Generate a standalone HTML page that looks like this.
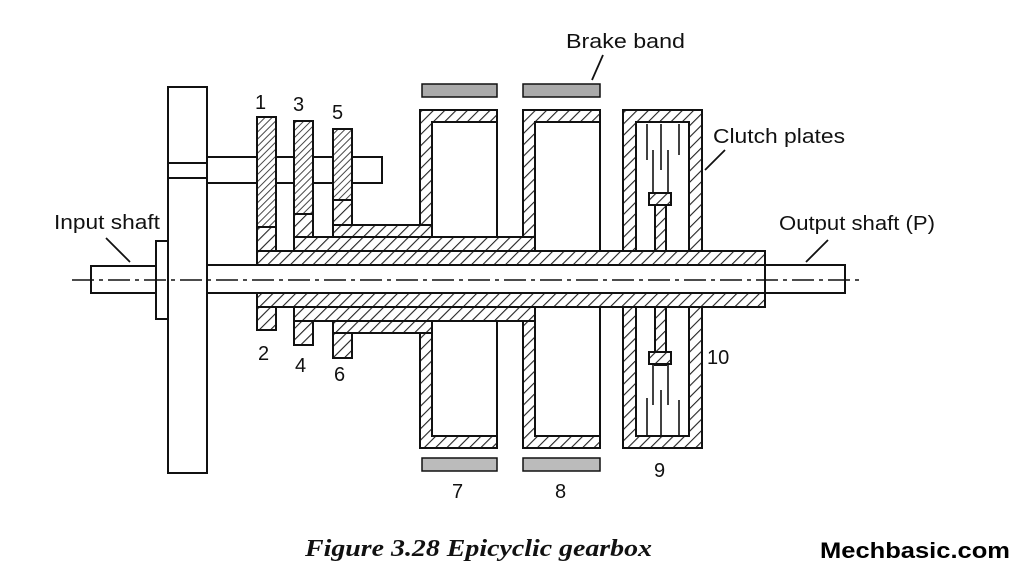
<!DOCTYPE html>
<html><head><meta charset="utf-8"><style>
html,body{margin:0;padding:0;background:#fff;}
svg{display:block;}
</style></head><body>
<svg width="1024" height="576" viewBox="0 0 1024 576" xmlns="http://www.w3.org/2000/svg">
<defs>
<pattern id="h" width="8" height="8" patternUnits="userSpaceOnUse" patternTransform="rotate(45)">
<rect width="8" height="8" fill="#fff"/><line x1="0" y1="0" x2="0" y2="8" stroke="#222" stroke-width="2.2"/>
</pattern>
<pattern id="hd" width="5" height="5" patternUnits="userSpaceOnUse" patternTransform="rotate(45)">
<rect width="5" height="5" fill="#fff"/><line x1="0" y1="0" x2="0" y2="5" stroke="#333" stroke-width="1.8"/>
</pattern>
</defs>
<g stroke="#111" stroke-width="2" fill="none">
<rect x="91" y="266" width="65" height="27" fill="#fff"/>
<rect x="156" y="241" width="12" height="78" fill="#fff"/>
<rect x="168" y="87" width="39" height="386" fill="#fff"/>
<line x1="168" y1="163" x2="207" y2="163"/><line x1="168" y1="178" x2="207" y2="178"/>
<rect x="207" y="157" width="175" height="26" fill="#fff"/>
<rect x="207" y="265" width="638" height="28" fill="#fff"/>
<rect x="257" y="251" width="508" height="14" fill="url(#h)"/>
<rect x="257" y="293" width="508" height="14" fill="url(#h)"/>
<rect x="294" y="237" width="241" height="14" fill="url(#h)"/>
<rect x="294" y="307" width="241" height="14" fill="url(#h)"/>
<rect x="333" y="225" width="99" height="12" fill="url(#h)"/>
<rect x="333" y="321" width="99" height="12" fill="url(#h)"/>
<rect x="257" y="227" width="19" height="24" fill="url(#h)"/>
<rect x="294" y="214" width="19" height="23" fill="url(#h)"/>
<rect x="333" y="200" width="19" height="25" fill="url(#h)"/>
<rect x="257" y="117" width="19" height="110" fill="url(#hd)"/>
<rect x="294" y="121" width="19" height="93" fill="url(#hd)"/>
<rect x="333" y="129" width="19" height="71" fill="url(#hd)"/>
<rect x="257" y="307" width="19" height="23" fill="url(#h)"/>
<rect x="294" y="321" width="19" height="24" fill="url(#h)"/>
<rect x="333" y="333" width="19" height="25" fill="url(#h)"/>
<path d="M420 110 H497 V122 H432 V225 H420 Z" fill="url(#h)"/>
<path d="M420 448 H497 V436 H432 V333 H420 Z" fill="url(#h)"/>
<line x1="497" y1="122" x2="497" y2="237"/><line x1="497" y1="321" x2="497" y2="436"/>
<path d="M523 110 H600 V122 H535 V237 H523 Z" fill="url(#h)"/>
<path d="M523 448 H600 V436 H535 V321 H523 Z" fill="url(#h)"/>
<line x1="600" y1="122" x2="600" y2="251"/><line x1="600" y1="307" x2="600" y2="436"/>
<path d="M623 110 H702 V251 H689 V122 H636 V251 H623 Z" fill="url(#h)"/>
<path d="M623 448 H702 V307 H689 V436 H636 V307 H623 Z" fill="url(#h)"/>
<g stroke-width="1.6">
<line x1="647" y1="124" x2="647" y2="160"/><line x1="661" y1="124" x2="661" y2="170"/><line x1="679" y1="124" x2="679" y2="155"/>
<line x1="653" y1="150" x2="653" y2="195"/><line x1="668" y1="150" x2="668" y2="195"/>
<line x1="647" y1="435" x2="647" y2="398"/><line x1="661" y1="435" x2="661" y2="390"/><line x1="679" y1="435" x2="679" y2="400"/>
<line x1="653" y1="405" x2="653" y2="365"/><line x1="668" y1="405" x2="668" y2="365"/>
</g>
<rect x="655" y="193" width="11" height="58" fill="url(#h)"/>
<rect x="649" y="193" width="22" height="12" fill="url(#h)"/>
<rect x="655" y="307" width="11" height="58" fill="url(#h)"/>
<rect x="649" y="352" width="22" height="12" fill="url(#h)"/>
<rect x="765" y="265" width="80" height="28" fill="#fff"/>
<g fill="#aaa" stroke-width="1.5">
<rect x="422" y="84" width="75" height="13"/><rect x="523" y="84" width="77" height="13"/>
<rect x="422" y="458" width="75" height="13" fill="#bbb"/><rect x="523" y="458" width="77" height="13" fill="#bbb"/>
</g>
<line x1="72" y1="280" x2="860" y2="280" stroke-width="1.4" stroke-dasharray="22,5,4,5"/>
<line x1="106" y1="238" x2="130" y2="262" stroke-width="1.8"/>
<line x1="603" y1="55" x2="592" y2="80" stroke-width="1.8"/>
<line x1="725" y1="150" x2="705" y2="170" stroke-width="1.8"/>
<line x1="828" y1="240" x2="806" y2="262" stroke-width="1.8"/>
</g>
<g font-family="Liberation Sans, sans-serif" font-size="20" fill="#111">
<text x="54" y="229" textLength="106" lengthAdjust="spacingAndGlyphs">Input shaft</text>
<text x="566" y="48" textLength="119" lengthAdjust="spacingAndGlyphs">Brake band</text>
<text x="713" y="143" textLength="132" lengthAdjust="spacingAndGlyphs">Clutch plates</text>
<text x="779" y="230" textLength="156" lengthAdjust="spacingAndGlyphs">Output shaft (P)</text>
<text x="255" y="109">1</text><text x="293" y="111">3</text><text x="332" y="119">5</text>
<text x="258" y="360">2</text><text x="295" y="372">4</text><text x="334" y="381">6</text>
<text x="452" y="498">7</text><text x="555" y="498">8</text><text x="654" y="477">9</text>
<text x="707" y="364">10</text>
</g>
<text x="305" y="556" textLength="347" lengthAdjust="spacingAndGlyphs" font-family="Liberation Serif, serif" font-style="italic" font-weight="bold" font-size="24" fill="#111">Figure 3.28 Epicyclic gearbox</text>
<text x="820" y="558" textLength="190" lengthAdjust="spacingAndGlyphs" font-family="Liberation Sans, sans-serif" font-weight="bold" font-size="22" fill="#000">Mechbasic.com</text>
</svg>
</body></html>
